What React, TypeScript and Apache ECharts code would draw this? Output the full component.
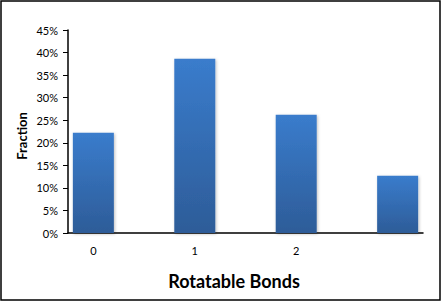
import React, { useEffect, useRef } from "react";
import * as echarts from "echarts";

const categories = ["0", "1", "2", ""];
const values = [22.2, 38.6, 26.2, 12.7];
const yTicks = [0, 5, 10, 15, 20, 25, 30, 35, 40, 45];

export default function App() {
  const ref = useRef<HTMLDivElement>(null);
  useEffect(() => {
    document.body.style.margin = "0";
    const chart = echarts.init(ref.current!, null, { renderer: "svg" });
    const font = "Lato, 'Open Sans', sans-serif";
    chart.setOption({
      animation: false,
      backgroundColor: "#fff",
      grid: { left: 68, right: 19, top: 30, bottom: 69 },
      xAxis: {
        type: "value",
        min: -0.25,
        max: categories.length - 0.75,
        axisLine: { show: true, onZero: false, lineStyle: { color: "#000", width: 1.5 } },
        axisTick: { show: false },
        splitLine: { show: false },
        axisLabel: {
          customValues: categories.map((c, i) => (c === "" ? null : i)).filter((v) => v !== null),
          formatter: (v: number) => categories[Math.round(v)] ?? "",
          color: "#000",
          fontSize: 11,
          fontFamily: font,
          margin: 12,
        },
      },
      yAxis: {
        type: "value",
        min: 0,
        max: 45,
        interval: 5,
        axisLine: { show: true, onZero: false, lineStyle: { color: "#000", width: 1.5 } },
        axisTick: { show: true, length: 5, lineStyle: { color: "#000" } },
        splitLine: { show: false },
        axisLabel: {
          formatter: (v: number) => (yTicks.includes(v) ? v + "%" : ""),
          color: "#000",
          fontSize: 11,
          fontFamily: font,
          margin: 10,
        },
      },
      series: [
        {
          type: "bar",
          barWidth: 41,
          data: values.map((v, i) => [i, v]),
          itemStyle: {
            color: new echarts.graphic.LinearGradient(0, 0, 0, 1, [
              { offset: 0, color: "#3a7ccc" },
              { offset: 1, color: "#2d5c98" },
            ]),
            shadowBlur: 3,
            shadowColor: "rgba(0,0,0,0.25)",
            shadowOffsetX: 1,
            shadowOffsetY: 1,
          },
        },
      ],
      graphic: [
        {
          type: "rect",
          shape: { x: 1, y: 1, width: 439, height: 299 },
          style: { fill: "none", stroke: "#000", lineWidth: 1.5 },
          silent: true,
        },
        {
          type: "text",
          x: 234,
          y: 281,
          style: {
            text: "Rotatable Bonds",
            fill: "#000",
            font: `bold 18px ${font}`,
            align: "center",
            verticalAlign: "middle",
          },
        },
        {
          type: "text",
          x: 22,
          y: 136,
          rotation: Math.PI / 2,
          style: {
            text: "Fraction",
            fill: "#000",
            font: `bold 13px ${font}`,
            align: "center",
            verticalAlign: "middle",
          },
        },
      ],
    });
    return () => chart.dispose();
  }, []);
  return (
    <div
      ref={ref}
      style={{ position: "absolute", left: 0, top: 0, width: 442, height: 302 }}
    />
  );
}
